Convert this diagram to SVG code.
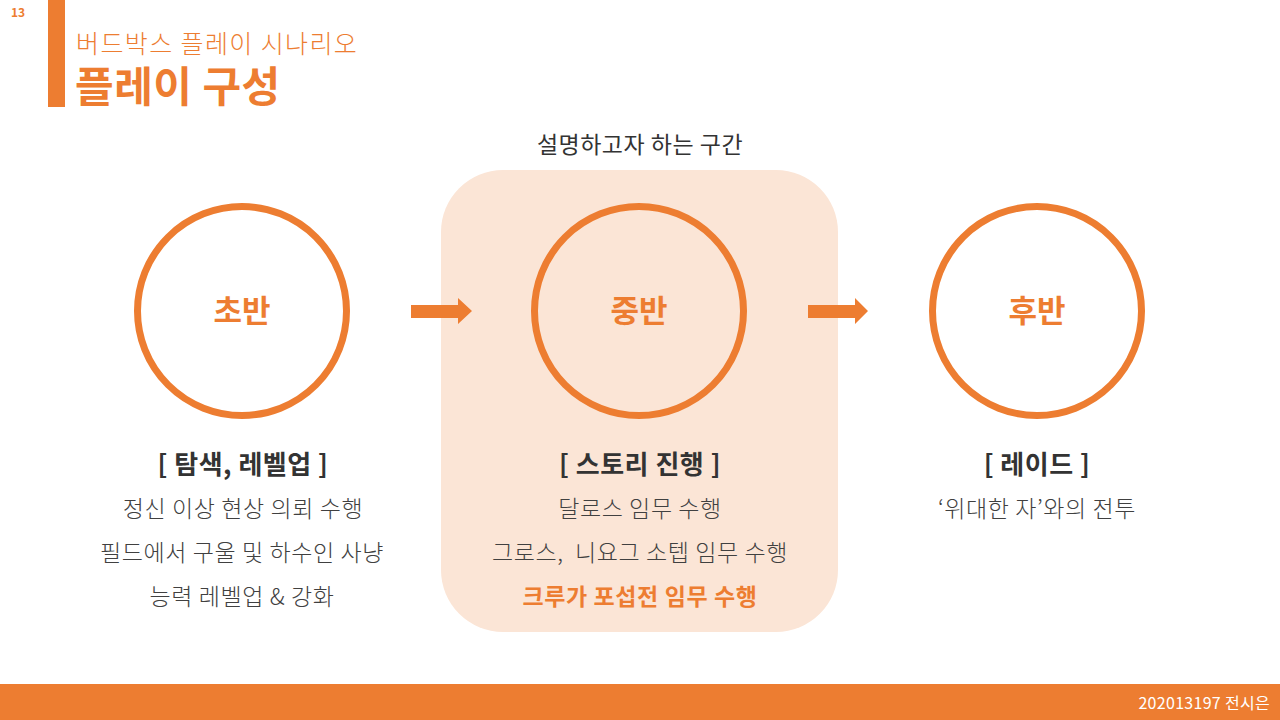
<svg xmlns="http://www.w3.org/2000/svg" width="1280" height="720" viewBox="0 0 1280 720">
<style>
.k{font-family:"Noto Sans CJK KR","Noto Sans",sans-serif}
.ring{fill:none;stroke:#ED7D31;stroke-width:7}
.lbl{font-size:31px;font-weight:700;fill:#ED7D31;text-anchor:middle}
.hd{font-size:26px;font-weight:700;fill:#333;text-anchor:middle;letter-spacing:0.5px}
.bd{font-size:23px;font-weight:300;fill:#404040;text-anchor:middle;letter-spacing:0.6px}
.arr{fill:#ED7D31}
</style>
<rect width="1280" height="720" fill="#fff"/>
<text class="k" x="11" y="17" font-size="12" font-weight="700" fill="#ED7D31">13</text>
<rect x="48" y="0" width="17" height="107" fill="#ED7D31"/>
<text class="k" x="76" y="53" font-size="25" font-weight="300" fill="#ED7D31" letter-spacing="1.4">버드박스 플레이 시나리오</text>
<text class="k" x="75" y="102" font-size="42" font-weight="700" fill="#ED7D31" letter-spacing="0.5">플레이 구성</text>
<rect x="441" y="170" width="397" height="462" rx="62" fill="#FBE5D6"/>
<text class="k" x="640" y="153" font-size="23" fill="#333" text-anchor="middle" letter-spacing="0.5">설명하고자 하는 구간</text>
<g id="connectors">
<polygon class="arr" points="411,305 458,305 458,298 472,311 458,324 458,318 411,318"/>
<polygon class="arr" points="808,305 855,305 855,298 868,311 855,324 855,318 808,318"/>
</g>
<g id="early">
<circle class="ring" cx="242" cy="311" r="104.5"/>
<text class="k lbl" x="242" y="322">초반</text>
<text class="k hd" x="243" y="474">[ 탐색, 레벨업 ]</text>
<text class="k bd" x="243" y="517">정신 이상 현상 의뢰 수행</text>
<text class="k bd" x="242" y="561">필드에서 구울 및 하수인 사냥</text>
<text class="k bd" x="242" y="605">능력 레벨업 &amp; 강화</text>
</g>
<g id="mid">
<circle class="ring" cx="639" cy="311" r="104.5"/>
<text class="k lbl" x="639" y="322">중반</text>
<text class="k hd" x="640" y="474">[ 스토리 진행 ]</text>
<text class="k bd" x="640" y="517">달로스 임무 수행</text>
<text class="k bd" x="640" y="561">그로스,&#160; 니요그 소텝 임무 수행</text>
<text class="k bd" x="640" y="605" style="fill:#ED7D31;font-weight:700">크루가 포섭전 임무 수행</text>
</g>
<g id="late">
<circle class="ring" cx="1037" cy="311" r="104.5"/>
<text class="k lbl" x="1037" y="322">후반</text>
<text class="k hd" x="1037" y="474">[ 레이드 ]</text>
<text class="k bd" x="1037" y="517">‘위대한 자’와의 전투</text>
</g>
<rect x="0" y="684" width="1280" height="36" fill="#ED7D31"/>
<text class="k" x="1270" y="709" font-size="16" fill="#fff" text-anchor="end" letter-spacing="0.3">202013197 전시은</text>
</svg>
